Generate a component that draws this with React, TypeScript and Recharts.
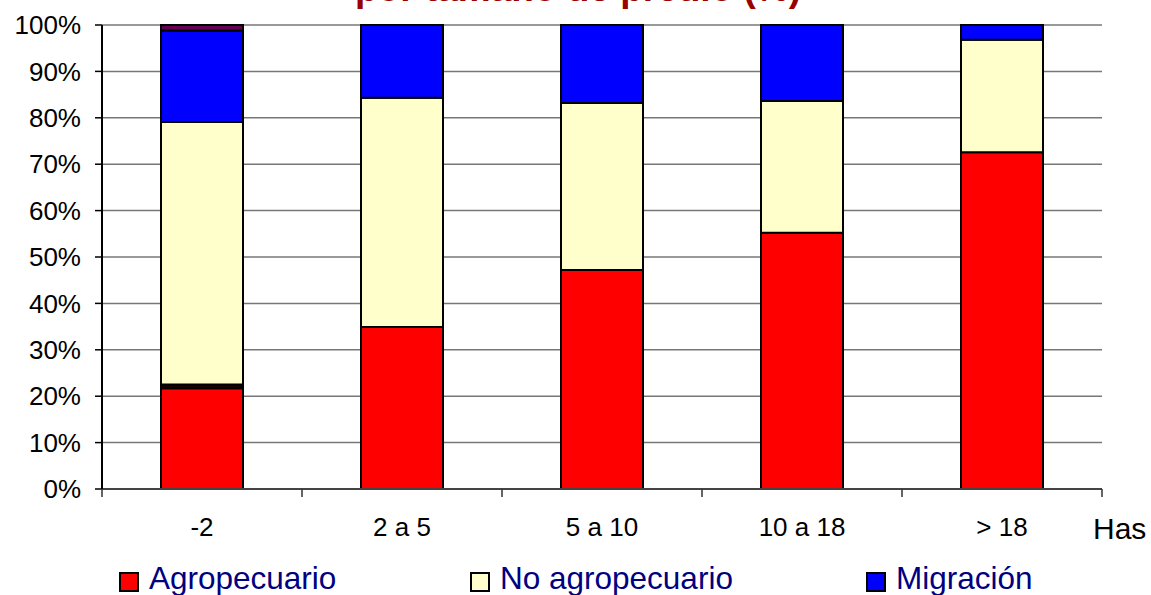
import { BarChart, Bar, XAxis, YAxis, CartesianGrid } from "recharts";

const categories = ["-2", "2 a 5", "5 a 10", "10 a 18", "> 18"];
const agropecuario = [21.7, 34.9, 47.2, 55.2, 72.6];
const otroBajo = [0.8, 0, 0, 0, 0];
const noAgropecuario = [56.6, 49.4, 36.0, 28.4, 24.2];
const migracion = [19.7, 15.7, 16.8, 16.4, 3.2];
const otroAlto = [1.2, 0, 0, 0, 0];
const yTicks = [0, 10, 20, 30, 40, 50, 60, 70, 80, 90, 100];

const legendItems = [
  { name: "Agropecuario", color: "#FF0000", x: 120 },
  { name: "No agropecuario", color: "#FFFFCC", x: 471 },
  { name: "Migración", color: "#0000FF", x: 867 },
];

const data = categories.map((cat, i) => ({
  cat,
  agro: agropecuario[i],
  bajo: otroBajo[i],
  noAgro: noAgropecuario[i],
  migr: migracion[i],
  alto: otroAlto[i],
}));

const W = 1151;
const H = 595;
const FONT = 'Arial, "Liberation Sans", sans-serif';
const PLOT_LEFT = 102;
const PLOT_RIGHT = 1102;
const BAND = (PLOT_RIGHT - PLOT_LEFT) / categories.length;
const X_TICK_MARGIN = 29;

function CategoryTick(props: any) {
  const { x, y, payload, index } = props;
  const axisY = y - X_TICK_MARGIN;
  const half = BAND / 2;
  return (
    <g>
      <line x1={x - half} x2={x - half} y1={axisY} y2={axisY + 8} stroke="#333" strokeWidth={1.5} />
      {index === categories.length - 1 && (
        <line x1={x + half} x2={x + half} y1={axisY} y2={axisY + 8} stroke="#333" strokeWidth={1.5} />
      )}
      <text x={x} y={y} dy="0.71em" textAnchor="middle" fontSize={26} fill="#000" fontFamily={FONT}>
        {payload.value}
      </text>
    </g>
  );
}

export default function App() {
  const barProps = { stackId: "a", stroke: "#000", strokeWidth: 2, isAnimationActive: false };
  return (
    <div style={{ position: "absolute", left: 0, top: 0, width: W, height: H, background: "#fff", overflow: "hidden" }}>
      <BarChart
        width={W}
        height={H}
        data={data}
        margin={{ top: 25, right: W - PLOT_RIGHT, bottom: 0, left: 0 }}
        barCategoryGap="29.5%"
        style={{ fontFamily: FONT }}
      >
        <CartesianGrid vertical={false} stroke="#777" strokeWidth={1.5} />
        <XAxis
          dataKey="cat"
          height={106}
          tickLine={false}
          tickSize={0}
          tickMargin={X_TICK_MARGIN}
          axisLine={{ stroke: "#444", strokeWidth: 2 }}
          tick={<CategoryTick />}
          interval={0}
        />
        <YAxis
          width={PLOT_LEFT}
          domain={[0, 100]}
          ticks={yTicks}
          tickFormatter={(v: number) => `${v}%`}
          tickSize={7}
          tickMargin={14}
          axisLine={{ stroke: "#000", strokeWidth: 2 }}
          tickLine={{ stroke: "#000", strokeWidth: 1.5 }}
          tick={{ fontSize: 26, fill: "#000", fontFamily: FONT }}
          interval={0}
        />
        <Bar dataKey="agro" name="Agropecuario" fill="#FF0000" {...barProps} />
        <Bar dataKey="bajo" name="Otro" fill="#1a0000" {...barProps} />
        <Bar dataKey="noAgro" name="No agropecuario" fill="#FFFFCC" {...barProps} />
        <Bar dataKey="migr" name="Migración" fill="#0000FF" {...barProps} />
        <Bar dataKey="alto" name="Otro" fill="#660055" {...barProps} />
      </BarChart>
      <svg
        width={W}
        height={H}
        style={{ position: "absolute", left: 0, top: 0, pointerEvents: "none", fontFamily: FONT }}
      >
        <text x={578} y={1} textAnchor="middle" fontSize={37} fontWeight="bold" fill="#990000">
          por tamaño de predio (%)
        </text>
        <text x={1093} y={518} dy="0.71em" fontSize={30} fill="#000">
          Has
        </text>
        {legendItems.map((item) => (
          <g key={item.name}>
            <rect x={item.x} y={573} width={18} height={18} fill={item.color} stroke="#000" strokeWidth={2} />
            <text x={item.x + 29} y={589} fontSize={31.5} fill="#000080">
              {item.name}
            </text>
          </g>
        ))}
      </svg>
    </div>
  );
}
